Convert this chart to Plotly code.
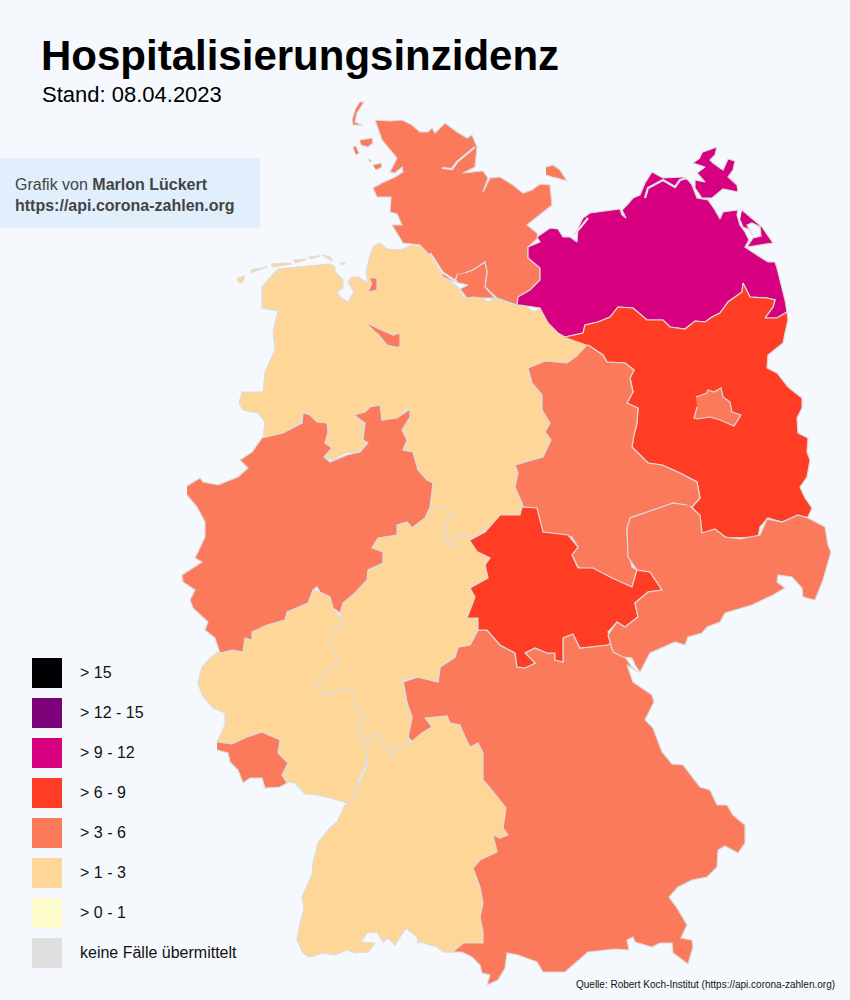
import plotly.graph_objects as go

# classes as in the legend, top to bottom
classes = ["> 15", "> 12 - 15", "> 9 - 12", "> 6 - 9", "> 3 - 6", "> 1 - 3", "> 0 - 1", "keine Fälle übermittelt"]
class_colors = ["#000003", "#7a0177", "#d60080", "#ff3d24", "#fb7a5c", "#fed798", "#fdfacc", "#dfdfdf"]

# state outlines (map x, map y), None starts a new part
niedersachsen = [(380,243),(387,249),(400,250),(413,245),(427,248),(435,262),(443,275),(452,283),(458,287),(463,297),(470,298),(477,295),(488,302),(495,298),(515,305),(525,305),(533,312),(542,308),(548,320),(558,332),(565,337),(580,342),(588,345),(578,355),(567,363),(545,361),(528,368),(532,383),(542,395),(542,410),(550,423),(545,432),(551,440),(543,457),(515,465),(518,473),(515,487),(522,503),(522,507),(520,515),(503,515),(492,525),(470,540),(467,533),(453,538),(455,547),(442,540),(447,532),(445,523),(452,515),(447,508),(430,507),(433,483),(427,480),(418,470),(413,452),(403,450),(407,440),(402,430),(410,417),(410,409),(405,410),(398,420),(383,422),(380,407),(370,407),(363,413),(354,415),(363,423),(365,443),(368,445),(357,452),(345,453),(332,460),(325,457),(332,448),(325,443),(328,430),(318,423),(310,418),(303,413),(300,423),(287,432),(270,437),(263,437),(265,422),(258,413),(243,410),(239,403),(242,392),(263,392),(265,372),(275,350),(273,332),(278,311),(262,308),(262,287),(268,280),(278,269),(297,267),(330,264),(335,267),(335,272),(343,280),(343,288),(337,292),(340,297),(348,302),(354,292),(348,282),(352,277),(358,277),(368,283),(366,272),(370,255),(373,247),(380,243),
    None,(237,278),(245,276),(242,283),(238,282),
    None,(251,270),(267,267),(250,273),
    None,(271,264),(287,263),(292,264),(272,267),
    None,(293,260),(307,259),(295,263),
    None,(308,257),(320,256),(310,259),
    None,(321,255),(330,257),(333,261),(325,257),
    None,(340,263),(345,263),(342,265)]
bayern = [(403,682),(418,677),(438,682),(440,667),(455,657),(458,647),(470,645),(478,630),(487,630),(500,645),(515,653),(517,667),(525,668),(535,663),(525,653),(535,648),(547,653),(555,653),(555,660),(563,662),(563,638),(573,634),(580,648),(607,645),(612,643),(617,653),(625,657),(632,667),(638,672),(627,665),(633,682),(652,695),(654,702),(645,720),(653,728),(662,752),(672,764),(683,765),(700,787),(710,790),(717,805),(727,805),(733,815),(745,825),(745,843),(738,853),(725,846),(718,850),(717,867),(707,877),(692,880),(678,887),(669,897),(677,908),(687,925),(681,938),(692,940),(693,947),(688,964),(673,953),(672,943),(660,943),(652,947),(635,942),(633,937),(627,940),(629,950),(615,949),(588,952),(577,962),(565,972),(553,972),(543,972),(537,962),(518,955),(507,953),(505,968),(498,980),(487,985),(490,975),(482,973),(480,965),(472,957),(462,952),(447,952),(457,948),(463,943),(470,930),(470,860),(480,790),(450,740),(435,740),(415,745),(408,737),(412,717),(407,703),(403,682)]
baden_wuerttemberg = [(410,743),(422,733),(432,727),(425,718),(447,716),(450,723),(460,725),(465,737),(470,747),(478,743),(483,753),(483,780),(490,788),(506,808),(503,828),(508,835),(500,838),(493,835),(497,852),(480,860),(473,868),(480,887),(483,903),(480,917),(483,932),(483,943),(463,943),(453,952),(443,952),(437,947),(420,942),(418,943),(417,937),(406,928),(400,937),(395,945),(388,938),(383,942),(377,932),(367,933),(361,942),(375,943),(368,952),(355,953),(347,950),(335,955),(323,953),(310,957),(303,953),(297,940),(300,923),(304,910),(302,897),(312,875),(313,863),(318,843),(330,828),(337,822),(345,805),(352,802),(360,780),(367,767),(367,753),(362,737),(372,743),(373,735),(380,735),(382,745),(393,747),(390,757),(398,747),(410,743)]
rheinland_pfalz = [(220,653),(233,650),(243,652),(245,638),(252,640),(252,632),(267,625),(285,620),(287,612),(308,603),(313,590),(320,592),(330,597),(333,608),(342,620),(342,627),(332,632),(330,643),(338,662),(323,672),(325,678),(316,685),(323,695),(345,688),(353,692),(357,707),(365,718),(357,727),(362,737),(367,753),(365,767),(358,780),(353,802),(347,803),(330,798),(317,795),(305,794),(295,783),(287,782),(282,775),(288,763),(278,753),(280,740),(262,732),(247,737),(232,744),(217,742),(225,725),(225,713),(213,708),(202,695),(198,683),(202,667),(210,658),(218,652)]
saarland = [(217,742),(232,744),(247,737),(262,732),(280,740),(278,753),(288,763),(282,775),(287,783),(280,787),(265,788),(262,778),(250,778),(243,783),(238,770),(230,762),(228,753),(217,750)]
hessen = [(430,507),(447,508),(452,515),(445,523),(447,532),(442,540),(455,547),(453,538),(467,533),(470,540),(478,552),(490,558),(485,565),(488,578),(470,588),(475,597),(467,618),(478,618),(478,630),(470,645),(458,647),(455,657),(440,667),(438,682),(418,677),(403,680),(407,703),(412,717),(408,737),(410,743),(398,747),(390,757),(393,747),(382,745),(380,735),(373,735),(372,743),(362,737),(357,727),(365,718),(357,707),(353,692),(345,688),(323,695),(316,685),(325,678),(323,672),(338,662),(330,643),(332,632),(342,627),(342,620),(340,613),(343,603),(355,593),(367,580),(368,570),(383,563),(383,552),(372,548),(378,538),(397,535),(397,525),(407,522),(412,528),(425,518),(430,507)]
nordrhein_westfalen = [(187,486),(200,478),(203,482),(218,485),(238,477),(248,468),(240,460),(252,452),(262,438),(283,433),(302,423),(303,413),(310,415),(317,422),(327,423),(328,432),(325,443),(332,448),(324,457),(330,462),(347,455),(360,452),(368,443),(363,440),(365,423),(354,415),(365,412),(370,407),(380,405),(382,420),(397,418),(410,409),(410,417),(402,430),(407,440),(403,450),(413,452),(418,470),(427,480),(433,483),(430,507),(425,518),(412,528),(407,522),(397,525),(397,535),(378,538),(372,548),(383,552),(383,563),(368,570),(367,580),(355,593),(343,603),(340,613),(333,608),(330,597),(320,592),(317,587),(313,590),(308,603),(287,612),(285,620),(267,625),(252,632),(252,640),(245,638),(243,652),(233,650),(220,653),(215,638),(205,630),(208,622),(193,608),(190,600),(195,590),(183,582),(182,575),(202,562),(195,558),(205,537),(205,522),(197,507),(187,495)]
schleswig_holstein = [(375,120),(390,121),(402,120),(412,125),(420,132),(428,132),(432,128),(435,133),(445,123),(457,132),(467,138),(472,135),(477,147),(475,167),(463,173),(483,171),(488,178),(483,192),(490,178),(500,177),(513,185),(523,193),(532,190),(540,184),(550,185),(552,205),(537,217),(527,225),(537,233),(538,238),(528,247),(528,258),(540,268),(540,280),(530,290),(518,297),(517,305),(497,298),(485,287),(487,272),(485,262),(473,270),(465,273),(457,275),(455,282),(443,277),(437,263),(428,253),(420,245),(403,243),(392,225),(402,225),(397,214),(390,212),(391,197),(377,197),(373,188),(382,183),(395,177),(403,172),(402,167),(395,173),(390,172),(397,158),(382,140),(375,120),
    None,(546,167),(553,165),(560,170),(567,181),(557,178),(552,177),(546,175),
    None,(360,102),(364,102),(357,113),(355,122),(363,125),(358,125),(353,125),(352,120),(355,110),
    None,(360,140),(372,138),(373,143),(368,147),(361,145),
    None,(353,147),(356,146),(359,153),(356,155),
    None,(373,165),(381,163),(382,167),(376,170),
    None,(368,159),(372,161),(370,162)]
hamburg = [(457,275),(455,282),(468,285),(460,289),(467,298),(473,297),(483,298),(495,298),(485,287),(487,272),(485,262),(473,270),(465,273)]
bremen = [(367,323),(377,328),(393,335),(400,333),(400,347),(395,347),(387,345),(377,333),
    None,(370,278),(377,278),(377,290),(368,292),(372,283)]
mecklenburg_vorpommern = [(528,247),(528,258),(540,268),(540,280),(530,290),(518,297),(517,305),(520,305),(540,308),(548,323),(558,333),(565,337),(583,333),(585,325),(598,322),(610,317),(618,307),(633,308),(647,320),(663,320),(670,327),(685,329),(695,321),(705,322),(712,317),(720,313),(728,302),(742,292),(743,283),(750,297),(767,298),(775,300),(773,307),(765,318),(777,318),(787,312),(785,300),(782,287),(777,268),(775,262),(768,262),(757,255),(745,247),(749,240),(745,232),(740,225),(737,215),(738,210),(723,212),(720,219),(715,210),(708,200),(697,198),(692,185),(688,180),(683,177),(663,178),(652,172),(645,183),(640,195),(633,198),(627,205),(622,210),(626,218),(622,215),(620,209),(603,211),(590,213),(583,218),(578,228),(577,242),(570,237),(563,237),(558,229),(550,228),(537,237),(540,242),(528,247),
    None,(742,210),(762,227),(773,243),(747,247),(753,238),(761,236),(760,227),(752,223),(747,225),(753,236),(750,230),(743,227),(740,220),
    None,(703,152),(717,147),(715,155),(710,160),(713,163),(723,170),(728,159),(735,161),(733,170),(728,177),(737,185),(738,192),(723,189),(712,198),(702,198),(695,188),(695,180),(705,182),(697,173),(705,167),(693,163),(700,158)]
brandenburg = [(565,337),(583,333),(585,325),(598,322),(610,317),(618,307),(633,308),(647,320),(663,320),(670,327),(685,329),(695,321),(705,322),(712,317),(720,313),(728,302),(742,292),(743,283),(750,297),(767,298),(775,300),(773,307),(765,318),(777,318),(787,312),(788,320),(785,333),(783,343),(768,355),(767,368),(777,373),(788,387),(802,398),(802,408),(797,418),(798,433),(808,438),(807,452),(810,460),(807,477),(800,487),(805,498),(812,508),(808,517),(797,517),(782,522),(768,518),(760,527),(758,537),(738,538),(727,538),(715,530),(705,536),(702,533),(700,517),(692,507),(700,498),(697,482),(680,473),(662,465),(648,463),(632,447),(634,435),(637,423),(638,408),(627,403),(633,392),(630,378),(634,370),(625,363),(607,362),(603,355),(588,345)]
sachsen_anhalt = [(588,345),(603,355),(607,362),(625,363),(634,370),(630,378),(633,392),(627,403),(638,408),(637,423),(634,435),(632,447),(648,463),(662,465),(680,473),(697,482),(700,498),(692,507),(673,503),(665,507),(632,517),(627,528),(628,550),(632,567),(637,570),(632,587),(620,583),(600,575),(578,567),(572,555),(578,547),(572,537),(543,532),(537,512),(523,507),(522,503),(515,487),(518,473),(515,465),(543,457),(551,440),(545,432),(550,423),(542,410),(542,395),(532,383),(528,368),(545,361),(567,363),(578,355)]
thueringen = [(470,540),(485,532),(500,515),(520,515),(522,507),(537,508),(543,532),(568,535),(578,547),(572,555),(578,568),(593,568),(612,578),(632,587),(637,570),(650,572),(662,590),(648,592),(635,603),(638,617),(625,627),(617,622),(608,632),(612,643),(607,645),(580,648),(573,634),(563,638),(563,662),(555,660),(555,653),(547,653),(535,648),(525,653),(535,663),(525,668),(517,667),(515,653),(500,645),(487,630),(478,630),(478,618),(467,618),(475,597),(470,588),(488,578),(485,565),(490,558),(478,552)]
sachsen = [(692,508),(700,515),(702,533),(715,529),(725,537),(740,539),(760,535),(767,519),(782,522),(798,515),(808,518),(825,527),(828,545),(831,552),(823,580),(815,600),(803,597),(802,588),(792,577),(778,575),(777,582),(785,588),(773,595),(752,605),(725,613),(720,622),(707,627),(702,633),(688,637),(685,645),(675,642),(650,653),(640,672),(635,665),(632,658),(623,657),(613,652),(608,635),(617,622),(625,627),(638,617),(635,603),(648,592),(662,590),(650,572),(637,570),(628,557),(627,528),(630,518),(653,510),(673,503),(687,505)]
berlin = [(696,397),(707,393),(708,390),(714,392),(721,388),(723,397),(730,402),(732,412),(741,415),(734,426),(720,420),(710,417),(698,419),(694,418),(697,407)]

# rivers and lagoons that show as pale lines inside the states
waters = [
    [(475,147),(457,162),(452,169),(442,168)],
    [(430,253),(443,273),(457,282)],
    [(645,198),(648,188),(663,180),(675,187),(680,180),(687,178)],
    [(588,218),(580,228),(573,235)],
]

# draw order matters, later states sit on top of shared borders
states = ["Niedersachsen", "Bayern", "Baden-Württemberg", "Rheinland-Pfalz", "Saarland", "Hessen", "Nordrhein-Westfalen", "Schleswig-Holstein", "Hamburg", "Bremen", "Mecklenburg-Vorpommern", "Brandenburg", "Sachsen-Anhalt", "Thüringen", "Sachsen", "Berlin"]
outlines = [niedersachsen, bayern, baden_wuerttemberg, rheinland_pfalz, saarland, hessen, nordrhein_westfalen, schleswig_holstein, hamburg, bremen, mecklenburg_vorpommern, brandenburg, sachsen_anhalt, thueringen, sachsen, berlin]
state_class = ["> 1 - 3", "> 3 - 6", "> 1 - 3", "> 1 - 3", "> 3 - 6", "> 1 - 3", "> 3 - 6", "> 3 - 6", "> 3 - 6", "> 3 - 6", "> 9 - 12", "> 6 - 9", "> 3 - 6", "> 6 - 9", "> 3 - 6", "> 3 - 6"]

fig = go.Figure()

for name, outline, cls in zip(states, outlines, state_class):
    xs = [p[0] if p else None for p in outline]
    ys = [p[1] if p else None for p in outline]
    fig.add_trace(go.Scatter(
        x=xs, y=ys, name=name, mode="lines", fill="toself",
        fillcolor=class_colors[classes.index(cls)],
        line=dict(color="#dcdcdc", width=1.2),
        hoverinfo="name",
    ))

for water in waters:
    fig.add_trace(go.Scatter(
        x=[p[0] for p in water], y=[p[1] for p in water], mode="lines",
        line=dict(color="#e4e6e8", width=2.2), hoverinfo="skip",
    ))

# legend squares on the left
legend_y = [673, 713, 753, 793, 833, 873, 913, 953]
fig.add_trace(go.Scatter(
    x=[47] * len(classes), y=legend_y, mode="markers", hoverinfo="skip",
    marker=dict(symbol="square", size=30, color=class_colors, line=dict(width=0)),
))
for label, y in zip(classes, legend_y):
    fig.add_annotation(x=78, y=y - 1, text=label, xanchor="left", showarrow=False,
                       font=dict(size=16, color="#111111"))

fig.add_shape(type="rect", x0=0, x1=260, y0=158, y1=228, fillcolor="#e1effc", line_width=0, layer="below")

fig.add_annotation(x=39, y=55, text="<b>Hospitalisierungsinzidenz</b>", xanchor="left", showarrow=False,
                   font=dict(size=42, color="#000000"))
fig.add_annotation(x=40, y=94, text="Stand: 08.04.2023", xanchor="left", showarrow=False,
                   font=dict(size=22, color="#000000"))
fig.add_annotation(x=13, y=184, text="Grafik von <b>Marlon Lückert</b>", xanchor="left", showarrow=False,
                   font=dict(size=16, color="#444444"))
fig.add_annotation(x=13, y=205, text="<b>https://api.corona-zahlen.org</b>", xanchor="left", showarrow=False,
                   font=dict(size=16, color="#444444"))
fig.add_annotation(x=837, y=984, text="Quelle: Robert Koch-Institut (https://api.corona-zahlen.org)", xanchor="right",
                   showarrow=False, font=dict(size=10, color="#111111"))

fig.update_layout(
    width=850, height=1000,
    margin=dict(l=0, r=0, t=0, b=0),
    paper_bgcolor="#f5f9fd", plot_bgcolor="#f5f9fd",
    showlegend=False,
    font=dict(family="Liberation Sans, Arial, sans-serif"),
)
fig.update_xaxes(range=[0, 850], visible=False)
fig.update_yaxes(range=[1000, 0], visible=False)

fig.write_html("out.html", config=dict(displayModeBar=False), post_script="document.body.style.margin='0';")
